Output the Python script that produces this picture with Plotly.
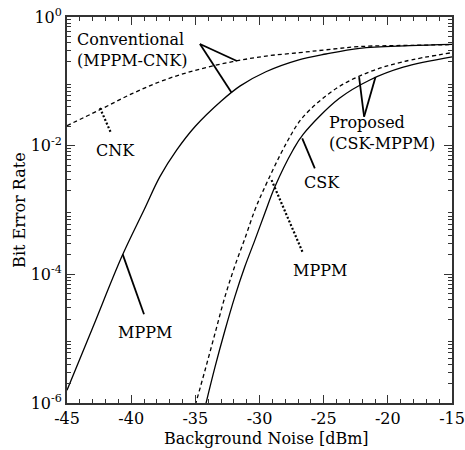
import plotly.graph_objects as go

# ---- data ----
conv_mppm_x = [-45.0, -43.0, -40.72, -39.0, -37.76, -36.46, -35.0, -33.0, -31.5, -29.5, -27.0, -24.83, -22.2, -18.3, -15.0]
conv_mppm_y = [1.58e-6, 1.48e-5, 1.91e-4, 1.0e-3, 3.3e-3, 8.5e-3, 2.0e-2, 4.9e-2, 8.5e-2, 0.141, 0.214, 0.266, 0.326, 0.358, 0.376]

conv_cnk_x = [-45.0, -42.48, -39.88, -37.29, -34.7, -32.1, -29.5, -26.9, -24.83, -22.2, -18.0, -15.0]
conv_cnk_y = [2.05e-2, 3.58e-2, 6.5e-2, 0.107, 0.154, 0.202, 0.247, 0.279, 0.309, 0.347, 0.363, 0.372]

prop_mppm_x = [-35.0, -34.25, -33.47, -32.69, -31.92, -31.14, -30.36, -29.71, -27.9, -26.6, -24.0, -21.4, -18.8, -15.0]
prop_mppm_y = [9.3e-7, 3.2e-6, 1.2e-5, 4.5e-5, 1.35e-4, 3.6e-4, 1.0e-3, 2.0e-3, 1.1e-2, 2.8e-2, 0.078, 0.141, 0.202, 0.279]

prop_csk_x = [-34.2, -33.47, -32.69, -31.92, -31.14, -30.36, -29.58, -28.8, -27.4, -26.6, -23.8, -21.4, -18.8, -15.0]
prop_csk_y = [9.3e-7, 3.6e-6, 1.35e-5, 4.5e-5, 1.32e-4, 3.4e-4, 9.0e-4, 2.3e-3, 8.5e-3, 1.5e-2, 5.4e-2, 0.105, 0.166, 0.240]

x_tick_vals = [-45, -40, -35, -30, -25, -20, -15]
x_tick_text = ["-45", "-40", "-35", "-30", "-25", "-20", "-15"]
y_tick_vals = [1e-6, 1e-4, 1e-2, 1e0]
y_tick_text = ["10<sup>-6</sup>", "10<sup>-4</sup>", "10<sup>-2</sup>", "10<sup>0</sup>"]
y_odd_decades = [1e-5, 1e-3, 1e-1]

x_title = "Background Noise [dBm]"
y_title = "Bit Error Rate"

FONT = "DejaVu Serif"
INK = "black"
FRAME = "#333"

fig = go.Figure()

def curve(x, y, dash):
    fig.add_trace(go.Scatter(
        x=x, y=y, mode="lines",
        line=dict(color=INK, width=1.3, dash=dash, shape="spline", smoothing=1.0),
        hoverinfo="skip", showlegend=False, cliponaxis=True))

curve(conv_cnk_x, conv_cnk_y, "4px,3px")
curve(conv_mppm_x, conv_mppm_y, "solid")
curve(prop_mppm_x, prop_mppm_y, "4px,3px")
curve(prop_csk_x, prop_csk_y, "solid")

# ---- annotation text (x in dB, y in log10 units) ----
labels = [
    ("Conventional<br>(MPPM-CNK)", -44.38, -0.513, "left"),
    ("CNK", -41.26, -2.07, "center"),
    ("MPPM", -38.93, -4.90, "center"),
    ("Proposed<br>(CSK-MPPM)", -24.75, -1.81, "left"),
    ("CSK", -25.1, -2.566, "center"),
    ("MPPM", -25.3, -3.935, "center"),
]
annotations = []
for txt, ax_, ay_, anc in labels:
    annotations.append(dict(
        text=txt, x=ax_, y=ay_, xref="x", yref="y", showarrow=False,
        xanchor=anc, yanchor="middle", align="left",
        font=dict(family=FONT, size=16, color=INK)))

# axis titles placed as paper-anchored texts
annotations.append(dict(text=x_title, x=0.517, y=-0.092, xref="paper", yref="paper",
                        showarrow=False, xanchor="center", yanchor="middle",
                        font=dict(family=FONT, size=16, color=INK)))
annotations.append(dict(text=y_title, x=-0.125, y=0.5, xref="paper", yref="paper",
                        showarrow=False, xanchor="center", yanchor="middle", textangle=-90,
                        font=dict(family=FONT, size=16, color=INK)))

# ---- pointer lines (x in dB, y in data values) ----
pointers = [
    ((-34.64, 10**-0.42), (-31.76, 10**-0.684), "solid"),
    ((-34.64, 10**-0.42), (-32.17, 10**-1.177), "solid"),
    ((-42.43, 10**-1.415), (-41.57, 10**-1.804), "dot"),
    ((-40.66, 10**-3.69), (-39.0, 10**-4.62), "solid"),
    ((-21.85, 10**-1.55), (-22.24, 10**-0.933), "solid"),
    ((-21.85, 10**-1.55), (-20.96, 10**-0.933), "solid"),
    ((-26.67, 10**-1.886), (-25.69, 10**-2.353), "solid"),
    ((-29.06, 10**-2.535), (-26.6, 10**-3.675), "dot"),
]
shapes = []
for (x0, y0), (x1, y1), d in pointers:
    shapes.append(dict(
        type="line", xref="x", yref="y", x0=x0, y0=y0, x1=x1, y1=y1,
        line=dict(color=INK, width=1.8 if d == "solid" else 2.2,
                  dash="solid" if d == "solid" else "2px,2px")))

minor_x = [v for v in range(-44, -15) if v % 5 != 0]
minor_y = [m * 10.0 ** e for e in range(-6, 0) for m in range(2, 10)]

fig.update_layout(
    width=465, height=450,
    margin=dict(l=67, r=13, t=17, b=47, autoexpand=False),
    paper_bgcolor="white", plot_bgcolor="white",
    font=dict(family=FONT, size=16, color=INK),
    annotations=annotations, shapes=shapes,
    showlegend=False,
    yaxis2=dict(
        type="log", range=[-6, 0], overlaying="y", anchor="x", side="left",
        tickmode="array", tickvals=y_odd_decades, showticklabels=False,
        ticks="inside", ticklen=8, tickwidth=1.3, tickcolor=FRAME,
        showline=False, mirror="ticks", showgrid=False, zeroline=False,
    ),
)
fig.update_xaxes(
    range=[-45, -15], tickmode="array", tickvals=x_tick_vals, ticktext=x_tick_text,
    ticks="inside", ticklen=8, tickwidth=1.3, tickcolor=FRAME,
    minor=dict(ticks="inside", tickmode="array", tickvals=minor_x, ticklen=4, tickwidth=1.2,
               tickcolor=FRAME, showgrid=False),
    showline=True, linecolor=FRAME, linewidth=1.8, mirror="ticks",
    showgrid=False, zeroline=False, automargin=False,
    tickfont=dict(family=FONT, size=16, color=INK),
)
fig.update_layout(yaxis=dict(
    type="log", range=[-6, 0], tickmode="array", tickvals=y_tick_vals, ticktext=y_tick_text,
    ticks="inside", ticklen=8, tickwidth=1.3, tickcolor=FRAME,
    minor=dict(ticks="inside", tickmode="array", tickvals=minor_y, ticklen=4, tickwidth=1.2,
               tickcolor=FRAME, showgrid=False),
    showline=True, linecolor=FRAME, linewidth=1.8, mirror="ticks",
    showgrid=False, zeroline=False, automargin=False,
    tickfont=dict(family=FONT, size=16, color=INK),
))

fig.write_html("out.html", config={"displayModeBar": False},
               post_script="document.body.style.margin='0';")
